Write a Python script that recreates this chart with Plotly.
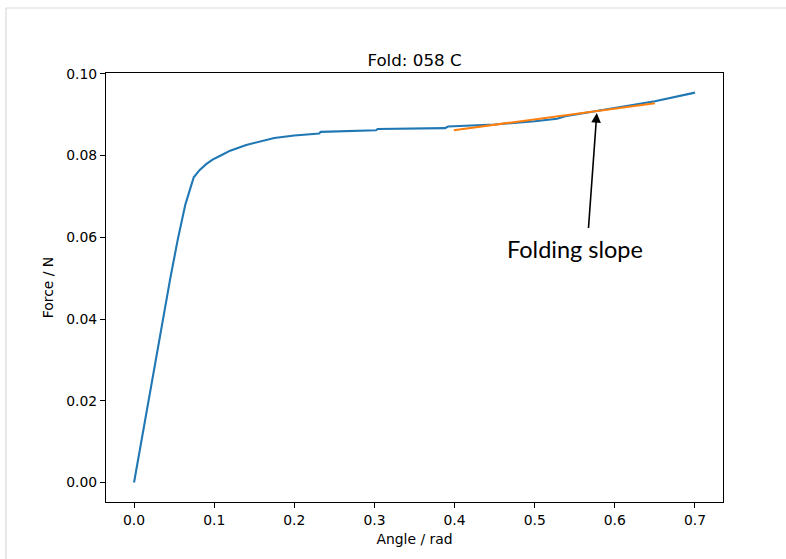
import plotly.graph_objects as go

# Data
angle = [0.0, 0.009, 0.018, 0.027, 0.036, 0.045, 0.0544, 0.064, 0.0745, 0.082, 0.090,
         0.098, 0.110, 0.120, 0.140, 0.160, 0.175, 0.200, 0.231, 0.233, 0.270,
         0.302, 0.304, 0.350, 0.388, 0.392, 0.450, 0.500, 0.528, 0.538, 0.575,
         0.610, 0.650, 0.700]
force = [0.0, 0.0100, 0.0200, 0.0300, 0.0398, 0.0497, 0.0593, 0.0680, 0.0747, 0.0765, 0.0779,
         0.0790, 0.0802, 0.0812, 0.0826, 0.0836, 0.0843, 0.0849, 0.0854, 0.0858, 0.0860,
         0.0862, 0.0865, 0.0866, 0.0867, 0.0871, 0.0876, 0.0884, 0.0890, 0.0896, 0.0908,
         0.0919, 0.0933, 0.0954]

fit_angle = [0.399, 0.650]
fit_force = [0.0862, 0.0928]

arrow_tip = (0.5775, 0.0904)
arrow_tail = (0.567, 0.0619)
label_pos = (0.5506, 0.0572)
label_text = "Folding slope"

title_text = "Fold: 058 C"
x_title = "Angle / rad"
y_title = "Force / N"

fig = go.Figure()
fig.add_trace(go.Scatter(x=angle, y=force, mode="lines",
                         line=dict(color="#1f77b4", width=2.1), showlegend=False))
fig.add_trace(go.Scatter(x=fit_angle, y=fit_force, mode="lines",
                         line=dict(color="#ff7f0e", width=2.1), showlegend=False))

fig.add_annotation(x=arrow_tip[0], y=arrow_tip[1], ax=arrow_tail[0], ay=arrow_tail[1],
                   xref="x", yref="y", axref="x", ayref="y", text="",
                   showarrow=True, arrowhead=2, arrowsize=1.2, arrowwidth=1.6,
                   arrowcolor="black")
fig.add_annotation(x=label_pos[0], y=label_pos[1], xref="x", yref="y",
                   text=label_text, showarrow=False,
                   font=dict(family="Lato", size=23.5, color="black"))

tickfont = dict(family="DejaVu Sans", size=13.9, color="black")
axis_common = dict(showline=True, linecolor="black", linewidth=1.1, mirror=True,
                   ticks="outside", ticklen=5, tickwidth=1.1, tickcolor="black",
                   showgrid=False, zeroline=False, tickfont=tickfont)

fig.update_xaxes(range=[-0.035, 0.735], dtick=0.1, tick0=0, tickformat=".1f",
                 title=dict(text=x_title, font=tickfont, standoff=7), **axis_common)
fig.update_yaxes(range=[-0.00477, 0.1002], dtick=0.02, tick0=0, tickformat=".2f",
                 title=dict(text=y_title, font=tickfont, standoff=9), **axis_common)

W, H = 786, 559
ml, mr, mt, mb = 106, 63, 73, 57
pw, ph = W - ml - mr, H - mt - mb

def px_to_paper_x(px):
    return (px - ml) / pw

def px_to_paper_y(py):
    return (H - mb - py) / ph

border = "#d9d9d9"
fig.add_shape(type="line", xref="paper", yref="paper",
              x0=px_to_paper_x(6), x1=px_to_paper_x(790),
              y0=px_to_paper_y(8), y1=px_to_paper_y(8),
              line=dict(color=border, width=1.2))
fig.add_shape(type="line", xref="paper", yref="paper",
              x0=px_to_paper_x(6), x1=px_to_paper_x(6),
              y0=px_to_paper_y(8), y1=px_to_paper_y(565),
              line=dict(color=border, width=1.2))

fig.update_layout(
    width=W, height=H,
    margin=dict(l=ml, r=mr, t=mt, b=mb, autoexpand=False),
    paper_bgcolor="white", plot_bgcolor="white",
    title=dict(text=title_text, x=0.5, xref="paper", y=1 - 60 / H, yref="container",
               yanchor="middle", xanchor="center",
               font=dict(family="DejaVu Sans", size=16.7, color="black")),
)

fig.write_html("out.html")
